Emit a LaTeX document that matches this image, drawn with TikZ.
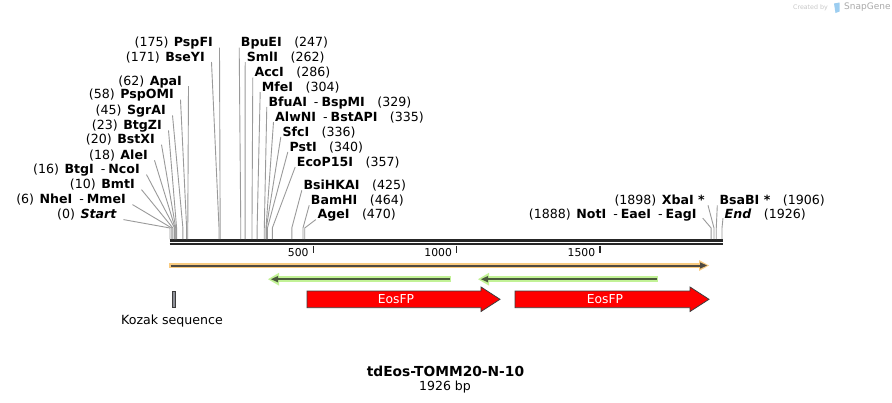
\documentclass[tikz,border=0pt]{standalone}
\usepackage{fontspec}
\setmainfont{DejaVu Sans}
\usetikzlibrary{calc}
\definecolor{seqc}{HTML}{262626}
\definecolor{sitec}{HTML}{9A9A9A}
\definecolor{orbg}{HTML}{F9CB80}
\definecolor{ordk}{HTML}{4F4A42}
\definecolor{grbg}{HTML}{C2F296}
\definecolor{grdk}{HTML}{4A5A3C}
\definecolor{eosred}{HTML}{FF0000}
\definecolor{eosedge}{HTML}{3C3C3C}
\definecolor{kozakc}{HTML}{8E9199}
\definecolor{wmA}{HTML}{C8C8C8}
\definecolor{wmB}{HTML}{AAAAAA}
\definecolor{wmC}{HTML}{9CCDF0}
\newcommand{\dsh}{\hspace{7pt}-\hspace{3pt}}
\newcommand{\sitel}[2]{#1\hspace{5.5pt}#2}
\newcommand{\siter}[2]{#1\hspace{12.5pt}#2}
\begin{document}
\begin{tikzpicture}[x=1pt,y=-1pt,
  lab/.style={inner sep=0pt,font=\fontsize{12.6}{14}\selectfont},
  siteline/.style={draw=sitec,line width=0.9pt},
  eosbox/.style={fill=eosred,draw=eosedge,line width=0.8pt,line join=miter},
  eostxt/.style={inner sep=0pt,text=white,font=\fontsize{12.3}{14}\selectfont},
  ticklab/.style={inner sep=0pt,anchor=base east,font=\fontsize{10.8}{12}\selectfont}]
\useasboundingbox[fill=white] (0,0) rectangle (892,402);

% watermark
\node[inner sep=0pt,anchor=east,text=wmA,font=\fontsize{6.3}{7}\selectfont] (wm1) at (828,7.5) {Created by};
\fill[wmC] (834,3.5) -- (839.5,2.5) -- (839.5,11.5) -- (835.5,13) -- cycle;
\node[inner sep=0pt,anchor=west,text=wmB,font=\fontsize{9}{10}\selectfont] (wm2) at (844,7.5) {SnapGene};

% backbone
\coordinate (seqtop) at (0,239);
\draw[seqc,line width=2.4pt] (169.5,240.4) -- (722.5,240.4);
\draw[seqc,line width=2.4pt] (169.5,244.1) -- (722.5,244.1);

% scale
\foreach \t in {500,1000,1500} {
  \draw[seqc,line width=1.6pt] ({170+\t*0.2866},245.5) -- ({170+\t*0.2866},252.7);
  \node[ticklab] (tick\t) at ({170+\t*0.2866-4.5},256) {\t};
}

% site positions
\foreach \b in {0,6,10,16,18,20,23,45,58,62,171,175,247,262,286,304,329,335,336,340,357,425,464,470,1888,1898,1906,1926}
  \coordinate (s\b) at ({170+\b*0.2866},228);

% left labels
\node[lab,anchor=base east] (L175) at (213,46.6) {\sitel{(175)}{\textbf{PspFI}}};
\node[lab,anchor=base east] (L171) at (205,61) {\sitel{(171)}{\textbf{BseYI}}};
\node[lab,anchor=base east] (L62) at (182,85) {\sitel{(62)}{\textbf{ApaI}}};
\node[lab,anchor=base east] (L58) at (174,98.6) {\sitel{(58)}{\textbf{PspOMI}}};
\node[lab,anchor=base east] (L45) at (166,114.3) {\sitel{(45)}{\textbf{SgrAI}}};
\node[lab,anchor=base east] (L23) at (162,129.3) {\sitel{(23)}{\textbf{BtgZI}}};
\node[lab,anchor=base east] (L20) at (155,143.6) {\sitel{(20)}{\textbf{BstXI}}};
\node[lab,anchor=base east] (L18) at (148,159.3) {\sitel{(18)}{\textbf{AleI}}};
\node[lab,anchor=base east] (L16) at (140,173.6) {\sitel{(16)}{\textbf{BtgI}\dsh\textbf{NcoI}}};
\node[lab,anchor=base east] (L10) at (135,188.6) {\sitel{(10)}{\textbf{BmtI}}};
\node[lab,anchor=base east] (L6) at (126,203.6) {\sitel{(6)}{\textbf{NheI}\dsh\textbf{MmeI}}};
\node[lab,anchor=base east] (L0) at (117,218.6) {\sitel{(0)}{\textbf{\textit{Start}}}};
\foreach \b in {175,171,62,58,45,23,20,18,16,10,6,0}
  \draw[siteline] ($(L\b.base east)+(6.5,1)$) -- (s\b) -- (s\b |- seqtop);

% right labels
\node[lab,anchor=base west] (R247) at (240.7,46.6) {\siter{\textbf{BpuEI}}{(247)}};
\node[lab,anchor=base west] (R262) at (246.7,61) {\siter{\textbf{SmlI}}{(262)}};
\node[lab,anchor=base west] (R286) at (254.3,76.6) {\siter{\textbf{AccI}}{(286)}};
\node[lab,anchor=base west] (R304) at (261.7,91) {\siter{\textbf{MfeI}}{(304)}};
\node[lab,anchor=base west] (R329) at (268.3,106) {\siter{\textbf{BfuAI}\dsh\textbf{BspMI}}{(329)}};
\node[lab,anchor=base west] (R335) at (275,121) {\siter{\textbf{AlwNI}\dsh\textbf{BstAPI}}{(335)}};
\node[lab,anchor=base west] (R336) at (282.3,136) {\siter{\textbf{SfcI}}{(336)}};
\node[lab,anchor=base west] (R340) at (289.3,151) {\siter{\textbf{PstI}}{(340)}};
\node[lab,anchor=base west] (R357) at (296.7,166) {\siter{\textbf{EcoP15I}}{(357)}};
\node[lab,anchor=base west] (R425) at (303.3,189.3) {\siter{\textbf{BsiHKAI}}{(425)}};
\node[lab,anchor=base west] (R464) at (310.7,204.3) {\siter{\textbf{BamHI}}{(464)}};
\node[lab,anchor=base west] (R470) at (317.3,218.6) {\siter{\textbf{AgeI}}{(470)}};
\foreach \b in {247,262,286,304,329,335,336,340,357,425,464,470}
  \draw[siteline] ($(R\b.base west)+(-1.5,1)$) -- (s\b) -- (s\b |- seqtop);

% far right labels
\node[lab,anchor=base east] (L1888) at (696.7,218.6) {\sitel{(1888)}{\textbf{NotI}\dsh\textbf{EaeI}\dsh\textbf{EagI}}};
\node[lab,anchor=base east] (L1898) at (705,204.3) {\sitel{(1898)}{\textbf{XbaI *}}};
\node[lab,anchor=base west] (R1906) at (719.3,204.3) {\siter{\textbf{BsaBI *}}{(1906)}};
\node[lab,anchor=base west] (R1926) at (724.5,218.6) {\siter{\textbf{\textit{End}}}{(1926)}};
\draw[siteline] ($(L1888.base east)+(6,-0.5)$) -- (s1888) -- (s1888 |- seqtop);
\draw[siteline] ($(L1898.base east)+(3,1)$) -- (s1898) -- (s1898 |- seqtop);
\draw[siteline] ($(R1906.base west)+(-2,1)$) -- (s1906) -- (s1906 |- seqtop);
\draw[siteline] ($(R1926.base west)+(-1.5,-0.5)$) -- (s1926) -- (s1926 |- seqtop);

% orange feature (forward)
\fill[orbg] (169,262.8) rectangle (701,268.2);
\fill[orbg] (699,260) -- (709,265.5) -- (699,271) -- cycle;
\draw[ordk,line width=2pt] (170.5,265.5) -- (701,265.5);
\fill[ordk] (700,262.3) -- (707,265.5) -- (700,268.7) -- cycle;

% green features (reverse)
\fill[grbg] (277,276.3) rectangle (451,282.1);
\fill[grbg] (279,272.8) -- (268,279.2) -- (279,285.6) -- cycle;
\draw[grdk,line width=2pt] (277,279.2) -- (449.5,279.2);
\fill[grdk] (278,276) -- (271,279.2) -- (278,282.4) -- cycle;
\fill[grbg] (487,276.3) rectangle (658,282.1);
\fill[grbg] (489,272.8) -- (478,279.2) -- (489,285.6) -- cycle;
\draw[grdk,line width=2pt] (487,279.2) -- (656.5,279.2);
\fill[grdk] (488,276) -- (481,279.2) -- (488,282.4) -- cycle;

% EosFP arrows
\draw[eosbox] (307,291) -- (481,291) -- (481,287) -- (500,299.3) -- (481,311.5) -- (481,307.7) -- (307,307.7) -- cycle;
\node[eostxt] (eos1) at (396,299.3) {EosFP};
\draw[eosbox] (515,291) -- (690,291) -- (690,287) -- (709,299.3) -- (690,311.5) -- (690,307.7) -- (515,307.7) -- cycle;
\node[eostxt] (eos2) at (605,299.3) {EosFP};

% Kozak
\draw[fill=kozakc,draw=eosedge,line width=0.8pt] (172.3,291.3) rectangle (175.7,307.3);
\node[lab] (kozak) at (172,321) {Kozak sequence};

% title
\node[inner sep=0pt,font=\fontsize{13.8}{16}\selectfont\bfseries] (title) at (445.5,371) {tdEos-TOMM20-N-10};
\node[inner sep=0pt,font=\fontsize{12.5}{14}\selectfont] (len) at (445,387) {1926 bp};
\end{tikzpicture}
\end{document}
